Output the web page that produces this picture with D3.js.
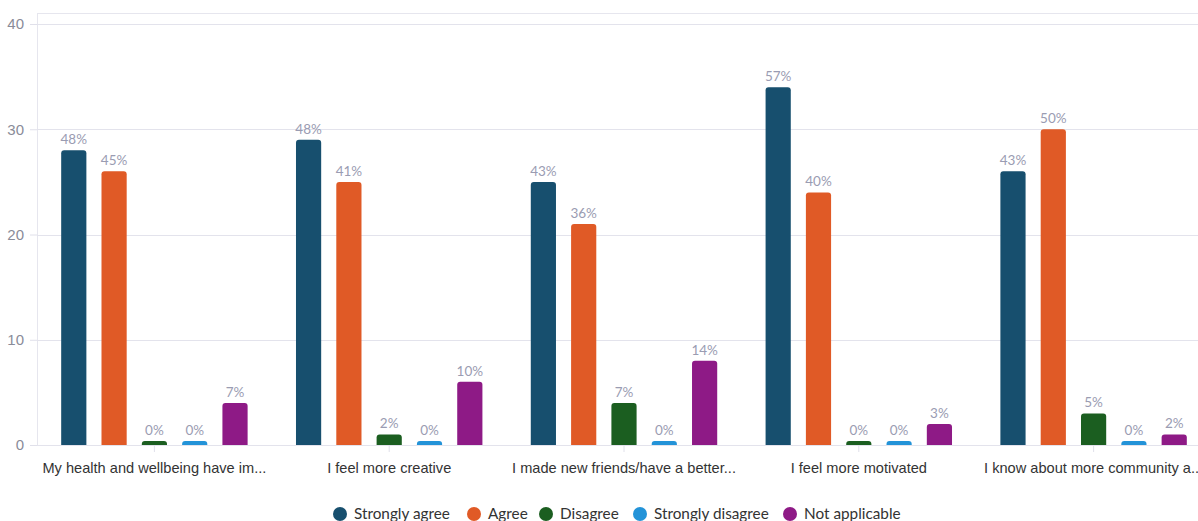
<!DOCTYPE html>
<html><head><meta charset="utf-8">
<script src="https://cdn.jsdelivr.net/npm/d3@7"></script>
<style>
body{margin:0;background:#fff;}
svg{display:block;font-family:Lato, "Noto Sans", sans-serif;}
</style></head>
<body><svg id="c" width="1198" height="521"></svg>
<script>
const categories = ["My health and wellbeing have im...","I feel more creative","I made new friends/have a better...","I feel more motivated","I know about more community a..."];
const seriesNames = ["Strongly agree","Agree","Disagree","Strongly disagree","Not applicable"];
const seriesColors = ["#174f6e","#e05a26","#1b5e20","#2393d8","#8e1a86"];
const stronglyAgree = [28,29,25,34,26];
const agree = [26,25,21,24,30];
const disagree = [0,1,4,0,3];
const stronglyDisagree = [0,0,0,0,0];
const notApplicable = [4,6,8,2,1];
const stronglyAgreePct = ["48%","48%","43%","57%","43%"];
const agreePct = ["45%","41%","36%","40%","50%"];
const disagreePct = ["0%","2%","7%","0%","5%"];
const stronglyDisagreePct = ["0%","0%","0%","0%","0%"];
const notApplicablePct = ["7%","10%","14%","3%","2%"];
const yTicks = [0,10,20,30,40];

const values = [stronglyAgree, agree, disagree, stronglyDisagree, notApplicable];
const pcts = [stronglyAgreePct, agreePct, disagreePct, stronglyDisagreePct, notApplicablePct];

const svg = d3.select("#c");
const mLeft = 37, mTop = 13, plotRight = 1211, mBottom = 445;
const y = d3.scaleLinear().domain([0,40]).range([mBottom, 24]);
const x0 = d3.scaleBand().domain(categories).range([mLeft, plotRight]).paddingInner(0).paddingOuter(0);
const x1 = d3.scaleBand().domain(seriesNames).range([0, x0.bandwidth()]).paddingInner(0.375).paddingOuter(0.6);

// frame
svg.append("line").attr("x1",mLeft).attr("x2",1198).attr("y1",mTop+0.5).attr("y2",mTop+0.5).attr("stroke","#e6e6ee");
svg.append("line").attr("x1",mLeft+0.5).attr("x2",mLeft+0.5).attr("y1",mTop).attr("y2",mBottom).attr("stroke","#e6e6ee");

// grid
const yAxis = d3.axisLeft(y).tickValues(yTicks).tickSize(7).tickPadding(6);
const ga = svg.append("g").attr("transform",`translate(${mLeft},0)`).call(yAxis);
ga.select(".domain").remove();
ga.selectAll(".tick line").attr("stroke","#e0e0ea");
ga.selectAll(".tick text").attr("fill","#8a8c99").attr("font-size",15);
svg.append("g").selectAll("line").data(yTicks).join("line")
  .attr("x1",mLeft).attr("x2",1198).attr("y1",d=>Math.round(y(d))+0.5).attr("y2",d=>Math.round(y(d))+0.5)
  .attr("stroke","#e3e3ec");

// x axis
const xAxis = d3.axisBottom(x0).tickSize(7).tickPadding(8);
const gx = svg.append("g").attr("transform",`translate(0,${mBottom})`).call(xAxis);
gx.select(".domain").remove();
gx.selectAll(".tick line").attr("stroke","#e0e0ea");
gx.selectAll(".tick text").attr("fill","#333").attr("font-size",14.6).attr("dy","0.9em");

function topRounded(x, yTop, w, h, r){
  r = Math.min(r, h, w/2);
  return `M${x},${yTop+h}V${yTop+r}Q${x},${yTop} ${x+r},${yTop}H${x+w-r}Q${x+w},${yTop} ${x+w},${yTop+r}V${yTop+h}Z`;
}

const gb = svg.append("g");
categories.forEach((c, ci) => {
  seriesNames.forEach((s, si) => {
    const v = values[si][ci];
    const bx = x0(c) + x1(s);
    const w = x1.bandwidth();
    let yt = y(v), h = mBottom - yt;
    if (v === 0) { h = 4; yt = mBottom - 4; }
    gb.append("path").attr("d", topRounded(bx, yt, w, h, 3)).attr("fill", seriesColors[si]);
    gb.append("text").attr("x", bx + w/2).attr("y", yt - 6).attr("text-anchor","middle")
      .attr("fill","#9a9cb2").attr("font-size",13.5).text(pcts[si][ci]);
  });
});

// legend
const legendX = [340,474,546,640,790];
const lg = svg.append("g");
seriesNames.forEach((s,i)=>{
  lg.append("circle").attr("cx",legendX[i]).attr("cy",514).attr("r",7).attr("fill",seriesColors[i]);
  lg.append("text").attr("x",legendX[i]+14).attr("y",519).attr("font-size",15.3).attr("fill","#333").text(s);
});
</script></body></html>
